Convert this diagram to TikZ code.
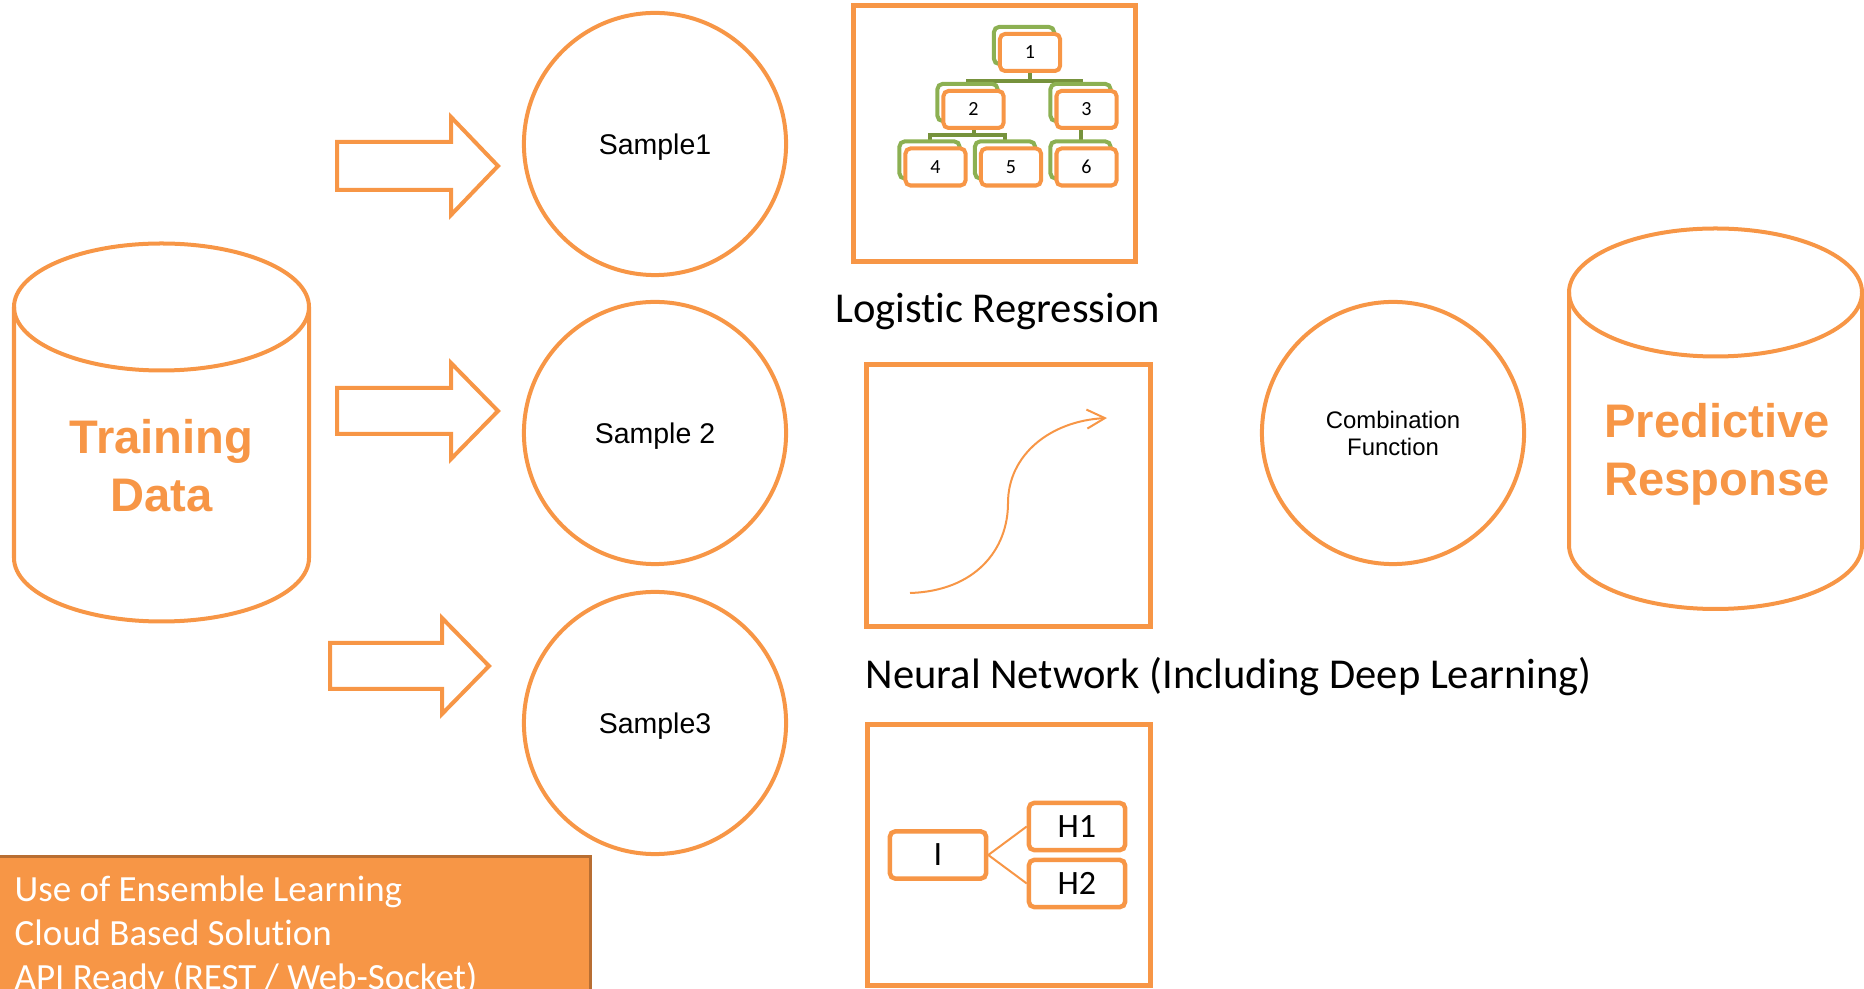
\documentclass[tikz,border=0pt]{standalone}
\usepackage{fontspec}
\setmainfont[Ligatures=NoCommon]{Carlito}
\newfontfamily\arialfont{Liberation Sans}
\usetikzlibrary{arrows.meta,shadows,backgrounds}

\definecolor{accent}{HTML}{F79646}
\definecolor{leafgreen}{RGB}{140,176,82}
\definecolor{stemgreen}{RGB}{118,146,60}
\definecolor{noteedge}{RGB}{184,110,50}

\tikzset{
  outline/.style={draw=accent, line width=0.04cm},
  frame/.style={draw=accent, line width=0.05cm, minimum width=2.83cm, minimum height=2.62cm, inner sep=0pt},
  samplecircle/.style={outline, circle, minimum size=2.62cm, inner sep=0pt, align=center,
    font=\arialfont\fontsize{8.1}{9.7}\selectfont},
  cylindertext/.style={text=accent, align=center, inner sep=0pt,
    font=\arialfont\bfseries\fontsize{13.4}{16.5}\selectfont},
  treebox/.style={draw=accent, fill=white, line width=0.04cm, rounded corners=0.05cm,
    minimum width=0.60cm, minimum height=0.37cm, inner sep=0pt, font=\fontsize{5.7}{6}\selectfont,
    copy shadow={shadow xshift=-0.06cm, shadow yshift=0.07cm, draw=leafgreen, fill=white}},
  treelink/.style={draw=stemgreen, line width=0.04cm},
  netbox/.style={draw=accent, fill=white, line width=0.045cm, rounded corners=0.05cm,
    minimum width=0.96cm, minimum height=0.47cm, inner sep=0pt, font=\fontsize{9.7}{11}\selectfont},
  netlink/.style={draw=accent, line width=0.02cm},
  caption/.style={inner sep=0pt, font=\fontsize{12.1}{14}\selectfont},
  notebox/.style={fill=accent, draw=noteedge, line width=0.03cm, minimum width=5.92cm, minimum height=1.6cm},
  notetext/.style={text=white, align=left, inner sep=0pt, font=\fontsize{10.5}{12.5}\selectfont},
}

\begin{document}
\begin{tikzpicture}[x=0.01cm, y=-0.01cm]
  \useasboundingbox (0,0) rectangle (1864,989);
  \clip (0,0) rectangle (1864,989);

  % Drawing cylinder for training data
  \draw [outline] (14,307) -- (14,558) arc [start angle=180, end angle=0, x radius=147.5, y radius=63.5] -- (309,307);%
  \draw [outline] (161.5,307) ellipse [x radius=147.5, y radius=63.5];%
  \draw (161.5,466) node [cylindertext] (train) {Training\\Data};%

  % Drawing block arrows towards the samples
  \draw [outline] (337,142) -- (451,142) -- (451,117) -- (498,166) -- (451,215) -- (451,190) -- (337,190) -- cycle;%
  \draw [outline] (337,388) -- (451,388) -- (451,363) -- (498,411) -- (451,459) -- (451,434) -- (337,434) -- cycle;%
  \draw [outline] (330,643) -- (442,643) -- (442,618) -- (489,666) -- (442,714) -- (442,689) -- (330,689) -- cycle;%

  % Marking samples by circles
  \draw (655,144) node [samplecircle, text depth=0pt] (s1) {Sample1};%
  \draw (655,433) node [samplecircle, text depth=0pt] (s2) {Sample 2};%
  \draw (655,723) node [samplecircle, text depth=0pt] (s3) {Sample3};%

  % Drawing frame of logistic regression tree
  \draw (994.5,133.5) node [frame, minimum width=2.81cm, minimum height=2.55cm] (lrbox) {};%
  \draw (1030,52.5) node [treebox] (t1) {1};%
  \draw (973.5,109.5) node [treebox] (t2) {2};%
  \draw (1086.5,109.5) node [treebox] (t3) {3};%
  \draw (935.5,167) node [treebox] (t4) {4};%
  \draw (1011,167) node [treebox] (t5) {5};%
  \draw (1086.5,167) node [treebox] (t6) {6};%
  \coordinate (j1) at ([yshift=-0.08cm]t1.south);%
  \coordinate (j2) at ([yshift=-0.05cm]t2.south);%
  \begin{pgfonlayer}{background}
    \draw [treelink] (t1.south) -- (j1);%
    \draw [treelink] ([xshift=-0.06cm]t2.north) |- (j1) -| ([xshift=-0.06cm]t3.north);%
    \draw [treelink] (t2.south) -- (j2);%
    \draw [treelink] ([xshift=-0.06cm]t4.north) |- (j2) -| ([xshift=-0.06cm]t5.north);%
    \draw [treelink] ([xshift=-0.06cm]t3.south) -- ([xshift=-0.06cm]t6.north);%
  \end{pgfonlayer}
  \draw (997.5,312) node [caption] (lrtext) {Logistic Regression};%

  % Drawing frame with sigmoid curve
  \draw (1008.5,495.5) node [frame] (nnbox) {};%
  \draw [accent, line width=0.02cm, -{Straight Barb[length=0.18cm, width=0.19cm]}]
    (910,593) .. controls (975,591) and (1008,550) .. (1008,503)
    .. controls (1008,455) and (1050,421) .. (1107,418);%
  \draw (865,677) node [caption, anchor=west] (nntext) {Neural Network (Including Deep Learning)};%

  % Drawing frame with small network
  \draw (1009,855) node [frame, minimum height=2.60cm] (hbox) {};%
  \draw (938,855) node [netbox] (inode) {I};%
  \draw (1077,826.5) node [netbox] (h1) {H1};%
  \draw (1077,883.5) node [netbox] (h2) {H2};%
  \draw [netlink] (inode.east) -- (h1.west);%
  \draw [netlink] (inode.east) -- (h2.west);%

  % Marking combination function by circle
  \draw (1393,433) node [samplecircle, font=\arialfont\fontsize{6.8}{7.7}\selectfont] (comb) {Combination\\Function};%

  % Drawing cylinder for predictive response
  \draw [outline] (1569,292.5) -- (1569,545) arc [start angle=180, end angle=0, x radius=146.5, y radius=64] -- (1862,292.5);%
  \draw [outline] (1715.5,292.5) ellipse [x radius=146.5, y radius=64];%
  \draw (1717,454.5) node [cylindertext] (resp) {Predictive\\Response};%

  % Drawing note box
  \draw (-3,855) node [notebox, anchor=north west] (notebg) {};%
  \draw (14,875) node [notetext, anchor=north west] (notes) {Use of Ensemble Learning\\Cloud Based Solution\\API Ready (REST / Web-Socket)};%
\end{tikzpicture}
\end{document}
